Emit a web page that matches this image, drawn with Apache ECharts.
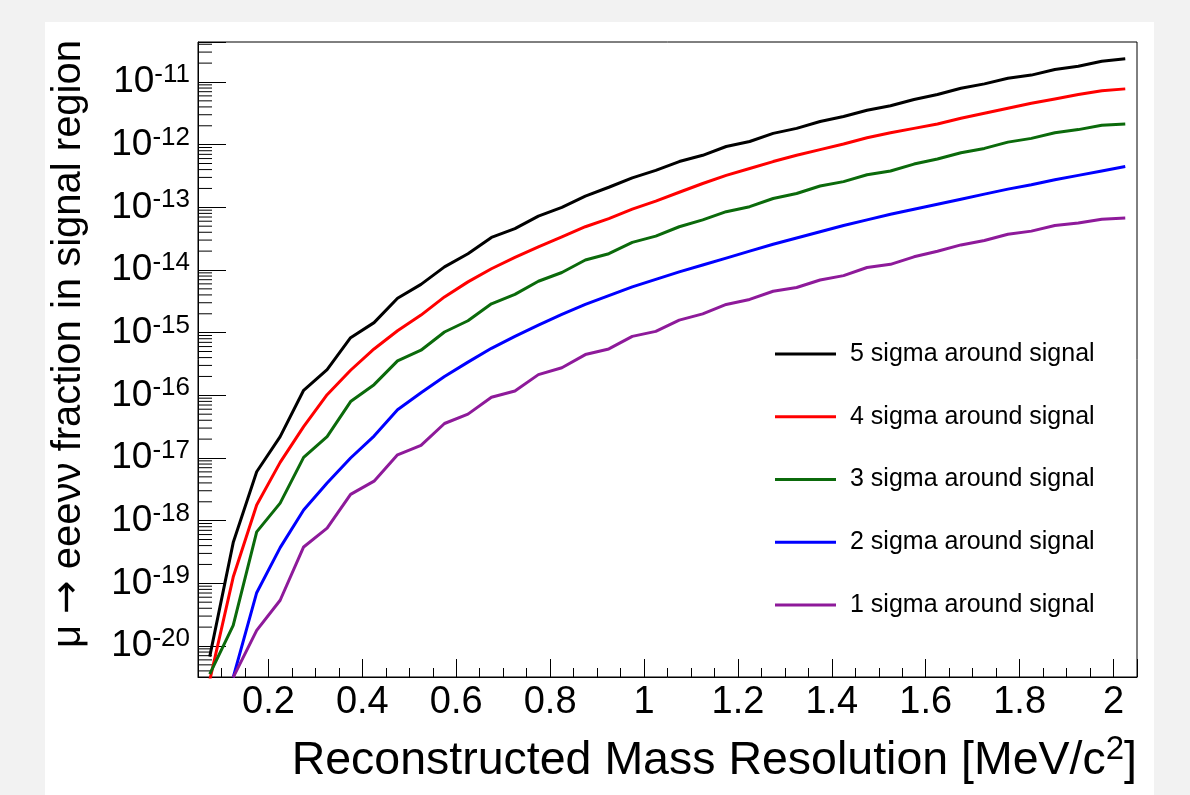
<!DOCTYPE html>
<html><head><meta charset="utf-8">
<script src="https://cdn.jsdelivr.net/npm/echarts@6/dist/echarts.min.js"></script>
<style>
html,body{margin:0;padding:0;background:#f2f2f2;}
#panel{position:absolute;left:45px;top:22px;width:1109px;height:773px;background:#fff;}
#chart{position:absolute;left:0;top:0;width:1190px;height:795px;}
</style></head><body>
<div id="panel"></div><div id="chart"></div>
<script>
// x: bin centres of the reconstructed mass resolution [MeV/c^2]
const xCenters = [0.075,0.125,0.175,0.225,0.275,0.325,0.375,0.425,0.475,0.525,
  0.575,0.625,0.675,0.725,0.775,0.825,0.875,0.925,0.975,1.025,
  1.075,1.125,1.175,1.225,1.275,1.325,1.375,1.425,1.475,1.525,
  1.575,1.625,1.675,1.725,1.775,1.825,1.875,1.925,1.975,2.025];

// log10 of the fraction in signal region
const sigma5 = [-20.17,-18.35,-17.22,-16.66,-15.92,-15.59,-15.08,-14.84,-14.45,-14.23,
  -13.95,-13.74,-13.48,-13.34,-13.14,-13.00,-12.82,-12.68,-12.53,-12.41,
  -12.27,-12.17,-12.03,-11.95,-11.82,-11.74,-11.63,-11.55,-11.45,-11.38,
  -11.28,-11.20,-11.10,-11.03,-10.94,-10.89,-10.80,-10.75,-10.67,-10.63];
const sigma4 = [-20.55,-18.90,-17.75,-17.07,-16.50,-15.99,-15.60,-15.26,-14.97,-14.72,
  -14.43,-14.19,-13.98,-13.80,-13.63,-13.47,-13.31,-13.18,-13.03,-12.90,
  -12.76,-12.62,-12.49,-12.38,-12.27,-12.17,-12.08,-11.99,-11.89,-11.81,
  -11.74,-11.67,-11.58,-11.50,-11.42,-11.34,-11.27,-11.20,-11.14,-11.11];
const sigma3 = [-20.45,-19.67,-18.18,-17.72,-16.99,-16.66,-16.10,-15.83,-15.45,-15.28,
  -14.99,-14.81,-14.54,-14.39,-14.18,-14.04,-13.84,-13.74,-13.56,-13.46,
  -13.31,-13.20,-13.07,-12.99,-12.86,-12.78,-12.66,-12.59,-12.48,-12.42,
  -12.31,-12.23,-12.13,-12.06,-11.96,-11.90,-11.81,-11.76,-11.69,-11.67];
const sigma2 = [null,-20.50,-19.15,-18.43,-17.83,-17.40,-17.00,-16.65,-16.23,-15.96,
  -15.70,-15.47,-15.25,-15.06,-14.88,-14.71,-14.55,-14.41,-14.27,-14.15,
  -14.03,-13.92,-13.81,-13.70,-13.59,-13.49,-13.39,-13.29,-13.20,-13.11,
  -13.03,-12.95,-12.87,-12.79,-12.71,-12.64,-12.56,-12.49,-12.42,-12.35];
const sigma1 = [null,-20.50,-19.75,-19.27,-18.42,-18.12,-17.58,-17.37,-16.95,-16.80,
  -16.45,-16.30,-16.03,-15.93,-15.67,-15.56,-15.35,-15.26,-15.06,-14.98,
  -14.80,-14.70,-14.55,-14.47,-14.34,-14.28,-14.16,-14.09,-13.96,-13.91,
  -13.79,-13.70,-13.60,-13.53,-13.43,-13.38,-13.29,-13.25,-13.19,-13.17];

const seriesNames = ['5 sigma around signal','4 sigma around signal','3 sigma around signal','2 sigma around signal','1 sigma around signal'];
const seriesColors = ['#000000','#ff0000','#0b6a0b','#0000ff','#8e1a9a'];
const seriesValues = [sigma5, sigma4, sigma3, sigma2, sigma1];

const xRange = [0.05, 2.05];
const yRange = [-20.495, -10.362];      // log10 range of the y axis
const minorMultipliers = [2,3,4,5,6,7,8,9];
const decades = [-21,-20,-19,-18,-17,-16,-15,-14,-13,-12,-11];

const yMinorTicks = [];
decades.forEach(n => minorMultipliers.forEach(k => {
  const v = n + Math.log10(k);
  if (v > yRange[0] && v < yRange[1]) yMinorTicks.push(v);
}));

const FONT = 'Liberation Sans, Arial, Helvetica, sans-serif';
const chart = echarts.init(document.getElementById('chart'), null, {renderer:'canvas'});

const lineSeries = seriesNames.map((name, i) => ({
  type: 'line', name: name,
  data: xCenters.map((x, j) => [x, seriesValues[i][j] === null ? '-' : seriesValues[i][j]]),
  symbol: 'none', showSymbol: false, clip: true,
  lineStyle: {color: seriesColors[i], width: 3},
  itemStyle: {color: seriesColors[i]},
  z: 5 + i
}));

const minorTickSeries = {
  type: 'custom', name: 'yMinor', silent: true, z: 3,
  data: yMinorTicks.map(v => [xRange[0], v]),
  renderItem: function (params, api) {
    const p = api.coord([api.value(0), api.value(1)]);
    return {type: 'line', shape: {x1: p[0], y1: p[1], x2: p[0] + 14, y2: p[1]},
            style: {stroke: '#000', lineWidth: 1}};
  }
};

chart.setOption({
  animation: false,
  grid: {left: 198, right: 53, top: 42, bottom: 118, show: true,
         borderColor: '#000', borderWidth: 1, backgroundColor: '#fff'},
  xAxis: {
    type: 'value', min: xRange[0], max: xRange[1], splitNumber: 10,
    axisLine: {show: true, lineStyle: {color: '#000', width: 1}},
    axisTick: {inside: true, length: 18, lineStyle: {color: '#000'}},
    minorTick: {show: true, splitNumber: 4, length: 9, lineStyle: {color: '#000'}},
    axisLabel: {margin: 7, color: '#000', fontFamily: FONT, fontSize: 38,
      showMinLabel: false, showMaxLabel: false,
      formatter: v => (Math.abs(v * 5 - Math.round(v * 5)) < 1e-6 ? String(+v.toFixed(1)) : '')},
    splitLine: {show: false}
  },
  yAxis: {
    type: 'value', min: yRange[0], max: yRange[1], splitNumber: 10,
    axisLine: {show: true, lineStyle: {color: '#000', width: 1}},
    axisTick: {inside: true, length: 28, lineStyle: {color: '#000'}},
    axisLabel: {margin: 8, color: '#000',
      formatter: v => (Math.abs(v - Math.round(v)) < 1e-6 ? '{b|10}{s|' + Math.round(v) + '}' : ''),
      rich: {
        b: {fontFamily: FONT, fontSize: 37, lineHeight: 40, color: '#000'},
        s: {fontFamily: FONT, fontSize: 26, lineHeight: 20, verticalAlign: 'top', color: '#000'}
      }},
    splitLine: {show: false}
  },
  legend: {
    orient: 'vertical', left: 775, top: 339, padding: 0,
    data: seriesNames, icon: 'rect', itemWidth: 61, itemHeight: 3, itemGap: 32.75,
    textStyle: {fontFamily: FONT, fontSize: 25, lineHeight: 30, color: '#000', padding: [0,0,0,9]},
    selectedMode: false
  },
  graphic: [
    {type: 'text', x: 69, y: 40, rotation: Math.PI / 2, silent: true,
     style: {text: '{t|μ }{r|→}{t| eeeνν fraction in signal region}',
             align: 'right', verticalAlign: 'middle',
             rich: {t: {fontFamily: FONT, fontSize: 40, lineHeight: 44, fill: '#000'},
                    r: {fontFamily: 'DejaVu Sans', fontSize: 40, lineHeight: 44, fill: '#000'}}}},
    {type: 'text', x: 1137, y: 761, silent: true,
     style: {text: '{a|Reconstructed Mass Resolution [MeV/c}{s|2}{a|]}',
             align: 'right', verticalAlign: 'middle',
             rich: {a: {fontFamily: FONT, fontSize: 46.5, lineHeight: 56, fill: '#000'},
                    s: {fontFamily: FONT, fontSize: 33, lineHeight: 28, verticalAlign: 'top', fill: '#000'}}}}
  ],
  series: lineSeries.concat([minorTickSeries])
});
</script></body></html>
